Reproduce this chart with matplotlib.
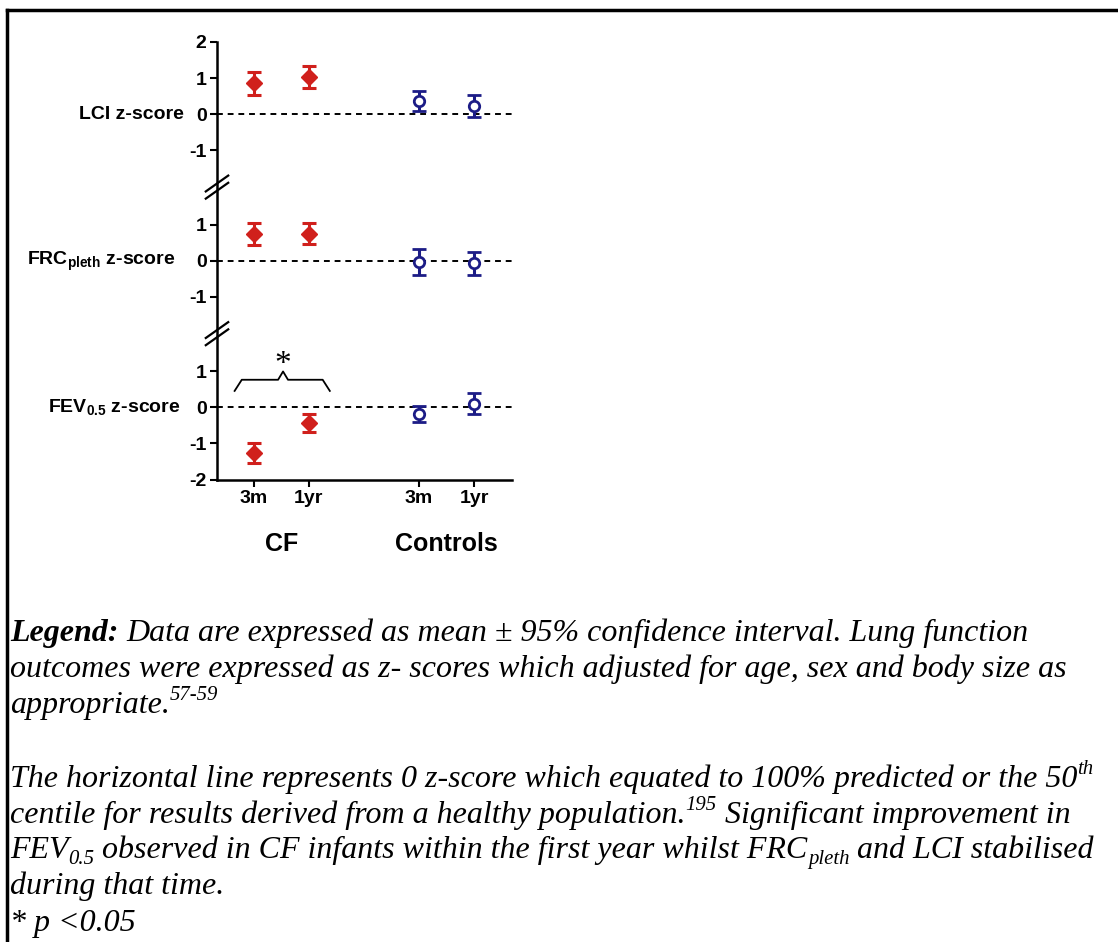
import numpy as np
import matplotlib
matplotlib.use('Agg')
import matplotlib.pyplot as plt
from matplotlib.lines import Line2D

plt.rcParams['font.family'] = 'Liberation Sans'
plt.rcParams['mathtext.fontset'] = 'custom'
plt.rcParams['mathtext.bf'] = 'Liberation Sans:bold'
plt.rcParams['mathtext.rm'] = 'Liberation Sans:bold'
plt.rcParams['mathtext.default'] = 'bf'

W, H = 1118, 942

# x positions of the four time points (CF 3m, CF 1yr, Controls 3m, Controls 1yr)
xpos = [1, 2, 4, 5]
timepoints = ['3m', '1yr', '3m', '1yr']
groups = ['CF', 'Controls']

# mean z-scores and 95% CI half widths
lci_mean = [0.85, 1.03, 0.36, 0.23]
lci_err = [0.33, 0.31, 0.27, 0.30]
frc_mean = [0.75, 0.75, -0.02, -0.07]
frc_err = [0.31, 0.29, 0.36, 0.31]
fev_mean = [-1.26, -0.43, -0.18, 0.10]
fev_err = [0.28, 0.26, 0.21, 0.29]

# vertical offsets of the three stacked panels on the shared axis
off_lci, off_frc, off_fev = 8.15, 4.07, 0.0
ticks_lci = [-1, 0, 1, 2]
ticks_frc = [-1, 0, 1]
ticks_fev = [-2, -1, 0, 1]

red = '#d0201c'
navy = '#1c1c86'

fig = plt.figure(figsize=(W / 100, H / 100), dpi=100)
ax = fig.add_axes([217 / W, 1 - 479.5 / H, (512 - 217) / W, (479.5 - 42) / H])
ax.set_xlim(0.33, 5.69)
ax.set_ylim(-2, 10.15)

for mean, err, off in [(lci_mean, lci_err, off_lci),
                       (frc_mean, frc_err, off_frc),
                       (fev_mean, fev_err, off_fev)]:
    ax.axhline(off, color='black', lw=1.4, ls=(0, (3, 2.5)), zorder=1)
    y = np.array(mean) + off
    ax.errorbar(xpos[:2], y[:2], yerr=err[:2], fmt='D', color=red, ms=8.5,
                elinewidth=2.2, capsize=5, capthick=2.2, zorder=3)
    ax.errorbar(xpos[2:], y[2:], yerr=err[2:], fmt='o', color=navy, ms=7.5,
                mfc='white', mec=navy, mew=2.0, elinewidth=2.2, capsize=5,
                capthick=2.2, zorder=3)

yt, yl = [], []
for ticks, off in [(ticks_lci, off_lci), (ticks_frc, off_frc), (ticks_fev, off_fev)]:
    for t in ticks:
        yt.append(t + off)
        yl.append(str(t))
ax.set_yticks(yt)
ax.set_yticklabels(yl)
ax.set_xticks(xpos)
ax.set_xticklabels(timepoints)
ax.tick_params(width=1.5, length=5, labelsize=14, pad=2.5)
for lab in ax.get_xticklabels() + ax.get_yticklabels():
    lab.set_fontweight('bold')

for s in ['top', 'right']:
    ax.spines[s].set_visible(False)
for s in ['left', 'bottom']:
    ax.spines[s].set_linewidth(1.8)

# axis break marks
for yb in [6.12, 2.05]:
    for d in [-0.1, 0.1]:
        ax.plot([-0.038, 0.038], [yb + d - 0.22, yb + d + 0.22], color='black',
                lw=1.6, transform=ax.get_yaxis_transform(), clip_on=False)

# panel labels
ax.text(-0.112, off_lci, 'LCI z-score', transform=ax.get_yaxis_transform(),
        ha='right', va='center', fontsize=14, fontweight='bold')
ax.text(-0.142, off_frc, r'FRC$_{pleth}$ z-score', transform=ax.get_yaxis_transform(),
        ha='right', va='center', fontsize=14, fontweight='bold')
ax.text(-0.122, off_fev, r'FEV$_{0.5}$ z-score', transform=ax.get_yaxis_transform(),
        ha='right', va='center', fontsize=14, fontweight='bold')

# group labels
ax.text(1.5, -3.8, groups[0], ha='center', va='center', fontsize=18,
        fontweight='bold', clip_on=False)
ax.text(4.5, -3.8, groups[1], ha='center', va='center', fontsize=18,
        fontweight='bold', clip_on=False)

# significance brace between CF 3m and CF 1yr
bx = [0.65, 0.78, 1.44, 1.53, 1.62, 2.25, 2.38]
by = [0.46, 0.77, 0.77, 1.0, 0.77, 0.77, 0.46]
ax.plot(bx, by, color='black', lw=1.3, clip_on=False)
ax.text(1.53, 1.2, '*', ha='center', va='center', fontsize=24,
        family='Liberation Serif')

# outer frame
fig.add_artist(Line2D([7 / W, 7 / W], [0, 1 - 10 / H], color='black', lw=2.5,
                      transform=fig.transFigure))
fig.add_artist(Line2D([7 / W, 1], [1 - 10 / H, 1 - 10 / H], color='black', lw=2.5,
                      transform=fig.transFigure))

# caption below the chart
renderer = fig.canvas.get_renderer()
FS = 23


def text_width(s, weight='normal'):
    t = fig.text(0, 0, s, fontsize=FS, family='Liberation Serif', style='italic',
                 weight=weight)
    w = t.get_window_extent(renderer).width
    t.remove()
    return w


space = text_width('x x') - text_width('xx')


def caption_line(x, y, parts):
    for kind, s in parts:
        if kind == 'sp':
            x += space
            continue
        fs, dy, weight = FS, 0, 'normal'
        if kind == 'sup':
            fs, dy = FS * 0.65, FS * 0.55
        elif kind == 'sub':
            fs, dy = FS * 0.65, -FS * 0.28
        elif kind == 'b':
            weight = 'bold'
        t = fig.text(x / W, 1 - (y - dy) / H, s, fontsize=fs, family='Liberation Serif',
                     style='italic', weight=weight, va='baseline')
        x += t.get_window_extent(renderer).width


x0 = 10
caption_line(x0, 641, [('b', 'Legend:'), ('sp', ''),
                       ('i', 'Data are expressed as mean \u00b1 95% confidence interval. Lung function')])
caption_line(x0, 677, [('i', 'outcomes were expressed as z- scores which adjusted for age, sex and body size as')])
caption_line(x0, 713, [('i', 'appropriate.'), ('sup', '57-59')])
caption_line(x0, 787, [('i', 'The horizontal line represents 0 z-score which equated to 100% predicted or the 50'),
                       ('sup', 'th')])
caption_line(x0, 823, [('i', 'centile for results derived from a healthy population.'), ('sup', '195'),
                       ('sp', ''), ('i', 'Significant improvement in')])
caption_line(x0, 858, [('i', 'FEV'), ('sub', '0.5'), ('sp', ''),
                       ('i', 'observed in CF infants within the first year whilst FRC'),
                       ('sub', 'pleth'), ('sp', ''), ('i', 'and LCI stabilised')])
caption_line(x0, 894, [('i', 'during that time.')])
caption_line(x0, 931, [('i', '* p <0.05')])

fig.savefig('out.png', dpi=100)
